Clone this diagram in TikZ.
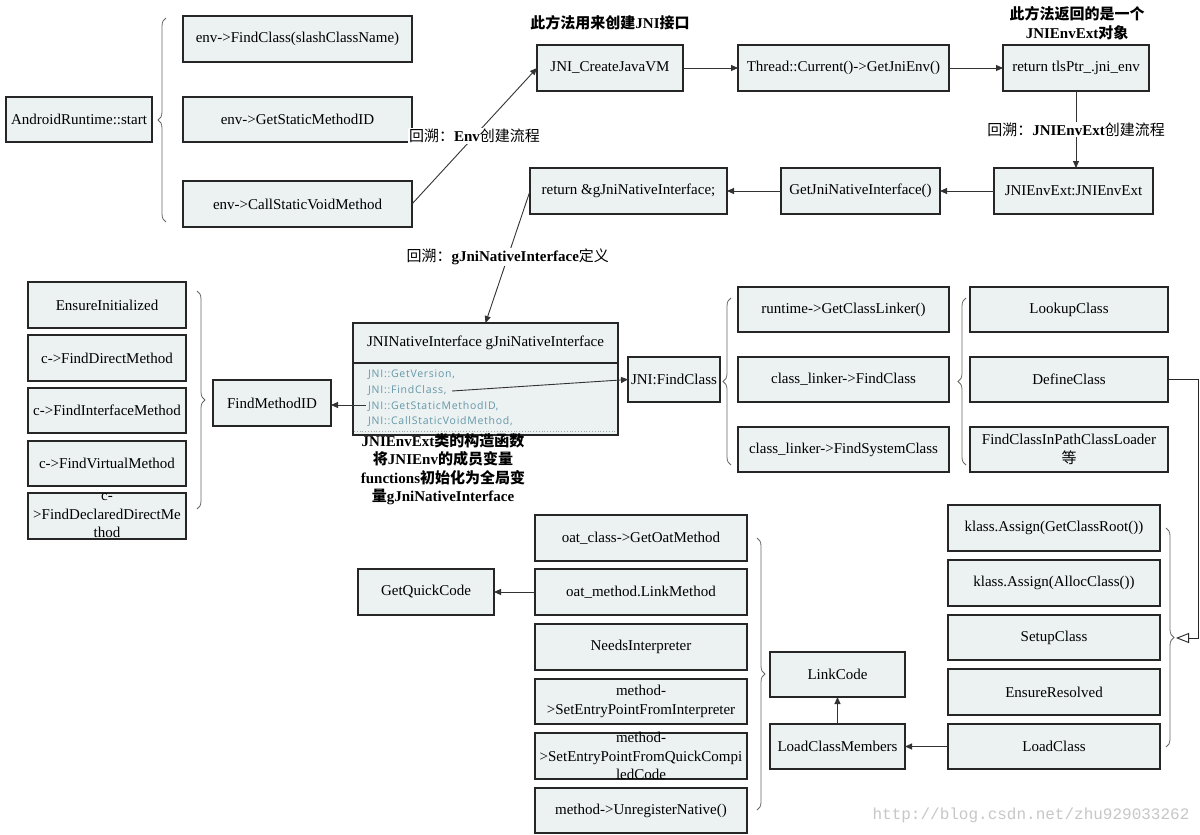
\documentclass[tikz,border=0pt]{standalone}
\usepackage{fontspec}
\setmainfont{Liberation Serif}
\setmonofont{Liberation Mono}
\newfontfamily\cjk{Noto Sans CJK SC}
\newfontfamily\uifont[LetterSpace=7]{Open Sans}
\usetikzlibrary{arrows.meta,decorations.pathreplacing}
\definecolor{boxfill}{RGB}{236,241,242}
\definecolor{entry}{RGB}{100,152,168}
\newcommand\zh[1]{{\cjk #1}}
\newcommand\zhb[1]{{\cjk\bfseries #1}}
\newcommand\fsz{\fontsize{15}{18.5}\selectfont}
\newcommand\bx[6]{%
  \node[box,minimum width={#4-#2},minimum height={#5-#3}] (#1) at ({(#2+#4)/2},{(#3+#5)/2}) {};
  \node[txt] (#1-t) at (#1.center) {#6};}
\tikzset{
  box/.style={draw=black!85,line width=1.4pt,fill=boxfill,inner sep=0pt,outer sep=0pt},
  txt/.style={font=\fsz,align=center,inner sep=0pt},
  arr/.style={draw=black!80,line width=0.9pt,-{Triangle[length=7pt,width=6pt]}},
  openarr/.style={draw=black!85,line width=0.9pt,-{Triangle[open,length=13pt,width=10pt]}},
  brc/.style={draw=black!60,line width=0.8pt,decorate,decoration={brace,amplitude=8pt}},
  lbl/.style={font=\fsz,fill=white,inner sep=1pt},
  note/.style={font=\fsz,align=center,inner sep=0pt},
  ent/.style={font=\uifont\fontsize{10.5}{12}\selectfont,text=entry,anchor=west,inner sep=0pt}
}
\begin{document}
\begin{tikzpicture}[x=1pt,y=-1pt]
\fill[white] (0,0) rectangle (1200,835);
\useasboundingbox (0,0) rectangle (1200,835);

% top-left group
\bx{ars}{6}{97}{152}{142}{AndroidRuntime::start}
\bx{fc}{183}{16}{412}{62}{env->FindClass(slashClassName)}
\bx{gsm}{183}{97}{412}{142}{env->GetStaticMethodID}
\bx{csv}{183}{181}{412}{227}{env->CallStaticVoidMethod}
\draw[brc] (166,222) -- (166,18);

% top chain
\bx{jvm}{537}{45}{683}{91}{JNI\_CreateJavaVM}
\bx{thr}{738}{45}{949}{91}{Thread::Current()->GetJniEnv()}
\bx{tls}{1003}{45}{1149}{91}{return tlsPtr\_.jni\_env}
\bx{ext}{994}{168}{1153}{214}{JNIEnvExt:JNIEnvExt}
\bx{gni}{781}{168}{940}{214}{GetJniNativeInterface()}
\bx{ret}{530}{168}{727}{214}{return \&gJniNativeInterface;}

\node[note] (t1) at (610,23) {\zhb{此方法用来创建}\textbf{JNI}\zhb{接口}};
\node[note] (t2) at (1077,23) {\zhb{此方法返回的是一个}\\\textbf{JNIEnvExt}\zhb{对象}};

\draw[arr] (csv.east) -- node[lbl,pos=0.5] {\zh{回溯：}\textbf{Env}\zh{创建流程}} (jvm.west);
\draw[arr] (jvm.east) -- (thr.west);
\draw[arr] (thr.east) -- (tls.west);
\draw[arr] (tls.south) -- node[lbl,pos=0.5] {\zh{回溯：}\textbf{JNIEnvExt}\zh{创建流程}} (tls.south |- ext.north);
\draw[arr] (ext.west) -- (gni.east);
\draw[arr] (gni.west) -- (ret.east);

% JNINativeInterface box
\node[box,minimum width=265,minimum height=112] (jni) at (485.5,379) {};
\draw[draw=black!85,line width=1.2pt] (353,363) -- (618,363);
\draw[draw=black!35,line width=0.8pt,dotted] (354,431) -- (617,431);
\node[txt] (jni-t) at (485.5,343) {JNINativeInterface gJniNativeInterface};
\node[ent] (e1) at (368,375) {JNI::GetVersion,};
\node[ent] (e2) at (368,390.5) {JNI::FindClass,};
\node[ent] (e3) at (368,406) {JNI::GetStaticMethodID,};
\node[ent] (e4) at (368,421) {JNI::CallStaticVoidMethod,};
\draw[arr] (ret.west) -- node[lbl,pos=0.5] {\zh{回溯：}\textbf{gJniNativeInterface}\zh{定义}} (jni.north);

\node[note] (t3) at (443,469) {\textbf{JNIEnvExt}\zhb{类的构造函数}\\\zhb{将}\textbf{JNIEnv}\zhb{的成员变量}\\\textbf{functions}\zhb{初始化为全局变}\\\zhb{量}\textbf{gJniNativeInterface}};

% FindMethodID group
\bx{fmi}{213}{380}{331}{426}{FindMethodID}
\bx{ei}{28}{282}{186}{328}{EnsureInitialized}
\bx{fdm}{28}{335}{186}{381}{c->FindDirectMethod}
\bx{fim}{28}{388}{186}{433}{c->FindInterfaceMethod}
\bx{fvm}{28}{441}{186}{486}{c->FindVirtualMethod}
\bx{fddm}{28}{493}{186}{539}{c-\\>FindDeclaredDirectMe\\thod}
\draw[brc] (197,291) -- (197,509);
\coordinate (gsmstart) at (366,405);
\draw[arr] (gsmstart) -- (gsmstart -| fmi.east);

% JNI:FindClass group
\bx{jfc}{628}{357}{720}{402}{JNI:FindClass}
\coordinate (fcstart) at (452,391);
\draw[arr] (fcstart) -- (jfc.west);
\draw[brc] (731,465) -- (731,298);
\bx{gcl}{738}{287}{949}{332}{runtime->GetClassLinker()}
\bx{clfc}{738}{357}{949}{402}{class\_linker->FindClass}
\bx{clfs}{738}{427}{949}{472}{class\_linker->FindSystemClass}
\draw[brc] (966,465) -- (966,298);
\bx{lc}{970}{287}{1168}{332}{LookupClass}
\bx{dc}{970}{357}{1168}{402}{DefineClass}
\bx{fcip}{970}{427}{1168}{472}{FindClassInPathClassLoader\\\zh{等}}

% DefineClass details
\bx{ka1}{948}{505}{1160}{551}{klass.Assign(GetClassRoot())}
\bx{ka2}{948}{560}{1160}{606}{klass.Assign(AllocClass())}
\bx{sc}{948}{615}{1160}{660}{SetupClass}
\bx{er}{948}{669}{1160}{715}{EnsureResolved}
\bx{ldc}{948}{724}{1160}{769}{LoadClass}
\draw[brc] (1166,528) -- (1166,747);
\coordinate (b5tip) at (1176,638);
\draw[openarr] (dc.east) -- ++(30,0) |- (b5tip);

\bx{lk}{770}{652}{905}{697}{LinkCode}
\bx{lcm}{770}{724}{905}{769}{LoadClassMembers}
\draw[arr] (ldc.west) -- (lcm.east);
\draw[arr] (lcm.north) -- (lk.south);
\draw[brc] (757,538) -- (757,810);

% LinkCode details
\bx{ogm}{535}{515}{747}{561}{oat\_class->GetOatMethod}
\bx{olm}{535}{569}{747}{615}{oat\_method.LinkMethod}
\bx{ni}{535}{624}{747}{670}{NeedsInterpreter}
\bx{sei}{535}{679}{747}{724}{method-\\>SetEntryPointFromInterpreter}
\bx{seq}{535}{733}{747}{779}{method-\\>SetEntryPointFromQuickCompi\\ledCode}
\bx{un}{535}{788}{747}{833}{method->UnregisterNative()}
\bx{gqc}{358}{569}{494}{615}{GetQuickCode}
\draw[arr] (olm.west) -- (gqc.east);

\node[font=\ttfamily\fontsize{16}{18}\selectfont,text=black!22,inner sep=0pt] (wm) at (1031,815) {http://blog.csdn.net/zhu929033262};
\end{tikzpicture}
\end{document}
